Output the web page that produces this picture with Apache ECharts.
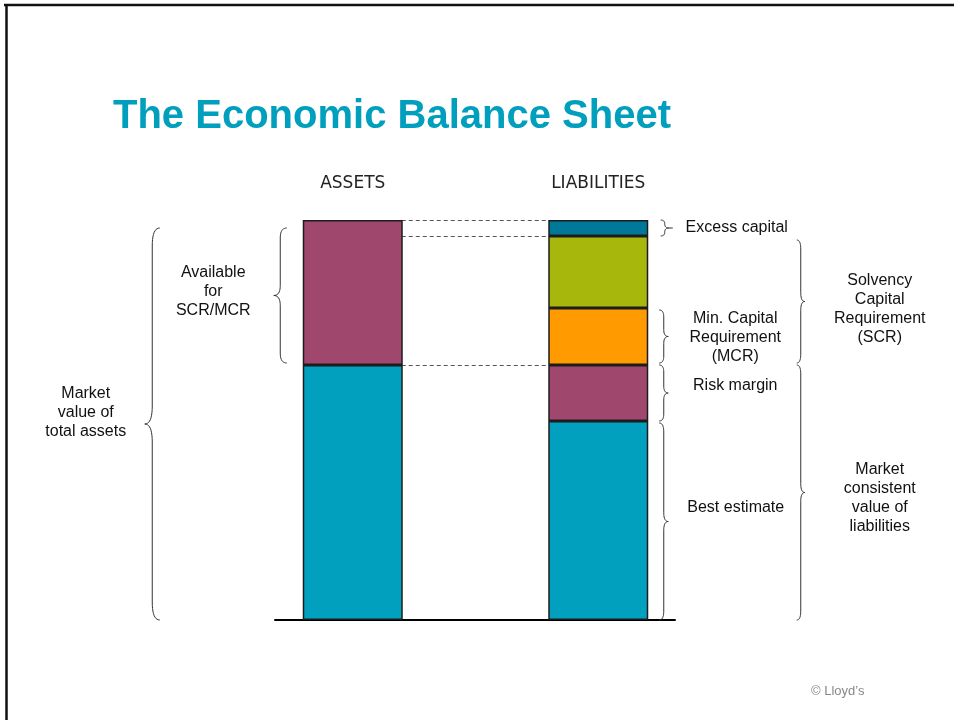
<!DOCTYPE html>
<html><head><meta charset="utf-8">
<script src="https://cdn.jsdelivr.net/npm/echarts@6/dist/echarts.min.js"></script>
<style>html,body{margin:0;padding:0;background:#fff}#c{width:954px;height:720px}</style>
</head><body><div id="c"></div>
<script>
// ---- data ----
const categories = ['ASSETS', 'LIABILITIES'];
const baseValue = [255, 199];        // market value of assets base / best estimate
const upperValue = [145, 56];        // available for SCR/MCR / risk margin
const mcrValue = [null, 57];         // minimum capital requirement
const scrRestValue = [null, 72];     // rest of solvency capital requirement
const excessValue = [null, 16];      // excess capital

const braceCat = [0, 0, 1, 1, 1, 1, 1, 1];
const braceFrom = [0, 257, 384, 257, 199, 0, 257, 0];
const braceTo = [392, 392, 400, 310, 255, 197, 380, 255];
const braceLabels = [
  'Market\nvalue of\ntotal assets',
  'Available\nfor\nSCR/MCR',
  'Excess capital',
  'Min. Capital\nRequirement\n(MCR)',
  'Risk margin',
  'Best estimate',
  'Solvency\nCapital\nRequirement\n(SCR)',
  'Market\nconsistent\nvalue of\nliabilities'
];

// ---- layout (pixel offsets, styles) ----
const braceLayout = [
  {dx: -193, dir: -1, w: 15, r: 18, lx: -267, ly: -11},
  {dx: -66, dir: -1, w: 13, r: 10, lx: -139.5, ly: -3.5},
  {dx: 62.5, dir: 1, w: 8, r: 4, lx: 138.5, ly: 0, tail: 4},
  {dx: 61, dir: 1, w: 9, r: 7, lx: 137, ly: 1.5},
  {dx: 61, dir: 1, w: 9, r: 7, lx: 137, ly: -7},
  {dx: 61, dir: 1, w: 9, r: 9, lx: 137.5, ly: -13.5},
  {dx: 198.5, dir: 1, w: 8, r: 9, lx: 281.5, ly: 8},
  {dx: 198.5, dir: 1, w: 8, r: 9, lx: 281.5, ly: 6}
];
const colors = {
  teal: '#00A0BE', purple: '#A0476E', orange: '#FF9A00', green: '#A8B70B', darkTeal: '#00789A'
};

function quad(p0, c, p1, out) {
  const n = 10;
  for (let k = 1; k <= n; k++) {
    const t = k / n, u = 1 - t;
    out.push([u*u*p0[0] + 2*u*t*c[0] + t*t*p1[0], u*u*p0[1] + 2*u*t*c[1] + t*t*p1[1]]);
  }
}
function bracePoints(xe, dir, w, y1, y2, r) {
  const xb = xe + dir * w * 0.5, xt = xe + dir * w, ym = (y1 + y2) / 2;
  r = Math.min(r, (y2 - y1) / 4);
  const pts = [[xe, y1]];
  quad([xe, y1], [xb, y1], [xb, y1 + r], pts);
  pts.push([xb, ym - r]);
  quad([xb, ym - r], [xb, ym], [xt, ym], pts);
  quad([xt, ym], [xb, ym], [xb, ym + r], pts);
  pts.push([xb, y2 - r]);
  quad([xb, y2 - r], [xb, y2], [xe, y2], pts);
  return pts;
}

const assetsTotal = baseValue[0] + upperValue[0];
const liabNoExcess = baseValue[1] + upperValue[1] + mcrValue[1] + scrRestValue[1];

const barStyle = c => ({color: c, borderColor: '#1c1c1c', borderWidth: 1.5});

const chart = echarts.init(document.getElementById('c'), null, {renderer: 'canvas'});
chart.setOption({
  animation: false,
  backgroundColor: '#fff',
  title: {
    text: 'The Economic Balance Sheet', left: 113, top: 97, padding: 0,
    textStyle: {fontFamily: '"Liberation Sans", Arial, sans-serif', fontWeight: 'bold', fontSize: 40, color: '#009FBD'}
  },
  grid: [
    {left: 230, right: 233, top: 220, bottom: 100},
    {left: 275, right: 279, top: 220, bottom: 100}
  ],
  xAxis: [
    {gridIndex: 0, type: 'category', data: categories, position: 'top',
     axisLine: {show: false, onZero: false}, axisTick: {show: false}, splitLine: {show: false},
     axisLabel: {show: true, margin: 28, fontFamily: '"DejaVu Sans", sans-serif', fontSize: 17, color: '#222'}},
    {gridIndex: 1, type: 'value', min: 0, max: 1, position: 'bottom',
     axisLine: {show: true, onZero: false, lineStyle: {color: '#000', width: 2}},
     axisTick: {show: false}, axisLabel: {show: false}, splitLine: {show: false}}
  ],
  yAxis: [
    {gridIndex: 0, type: 'value', min: 0, max: 400, show: false},
    {gridIndex: 1, type: 'value', min: 0, max: 1, show: false}
  ],
  series: [
    {type: 'bar', stack: 'bs', barWidth: 100, data: baseValue, itemStyle: barStyle(colors.teal),
     markLine: {
       z: 1, silent: true, symbol: 'none', label: {show: false},
       lineStyle: {type: [4, 3], color: '#555', width: 1},
       data: [
         [{coord: [0, assetsTotal]}, {coord: [1, assetsTotal]}],
         [{coord: [0, liabNoExcess]}, {coord: [1, liabNoExcess]}],
         [{coord: [0, baseValue[0]]}, {coord: [1, baseValue[0]]}]
       ]
     }},
    {type: 'bar', stack: 'bs', barWidth: 100, data: upperValue, itemStyle: barStyle(colors.purple)},
    {type: 'bar', stack: 'bs', barWidth: 100, data: mcrValue, itemStyle: barStyle(colors.orange)},
    {type: 'bar', stack: 'bs', barWidth: 100, data: scrRestValue, itemStyle: barStyle(colors.green)},
    {type: 'bar', stack: 'bs', barWidth: 100, data: excessValue, itemStyle: barStyle(colors.darkTeal)},
    {type: 'custom', silent: true, z: 3,
     data: braceFrom.map((f, i) => [braceCat[i], f, braceTo[i]]),
     encode: {x: 0, y: [1, 2]},
     renderItem: function (params, api) {
       const i = params.dataIndex, L = braceLayout[i];
       const cat = api.value(0);
       const top = api.coord([cat, api.value(2)]);
       const bot = api.coord([cat, api.value(1)]);
       const xe = top[0] + L.dx;
       const pts = bracePoints(xe, L.dir, L.w, top[1], bot[1], L.r);
       const ym = (top[1] + bot[1]) / 2;
       const children = [{type: 'polyline', shape: {points: pts}, style: {stroke: '#333', lineWidth: 1, fill: 'none'}}];
       if (L.tail) {
         const xt = xe + L.dir * L.w;
         children.push({type: 'line', shape: {x1: xt, y1: ym, x2: xt + L.dir * L.tail, y2: ym}, style: {stroke: '#333', lineWidth: 1}});
       }
       children.push({type: 'text', style: {
         text: braceLabels[i], x: top[0] + L.lx, y: ym + L.ly, align: 'center', verticalAlign: 'middle',
         font: '16px "Liberation Sans", Arial, sans-serif', fill: '#111', lineHeight: 19}});
       return {type: 'group', children};
     }}
  ],
  graphic: [
    {type: 'line', shape: {x1: 4, y1: 5, x2: 954, y2: 5}, style: {stroke: '#111', lineWidth: 2.5}},
    {type: 'line', shape: {x1: 6.5, y1: 4, x2: 6.5, y2: 720}, style: {stroke: '#111', lineWidth: 2.5}},
    {type: 'text', left: 811, top: 685, style: {text: '\u00A9 Lloyd\u2019s', font: '13px "Liberation Sans", Arial, sans-serif', fill: '#888'}}
  ]
});
</script></body></html>
